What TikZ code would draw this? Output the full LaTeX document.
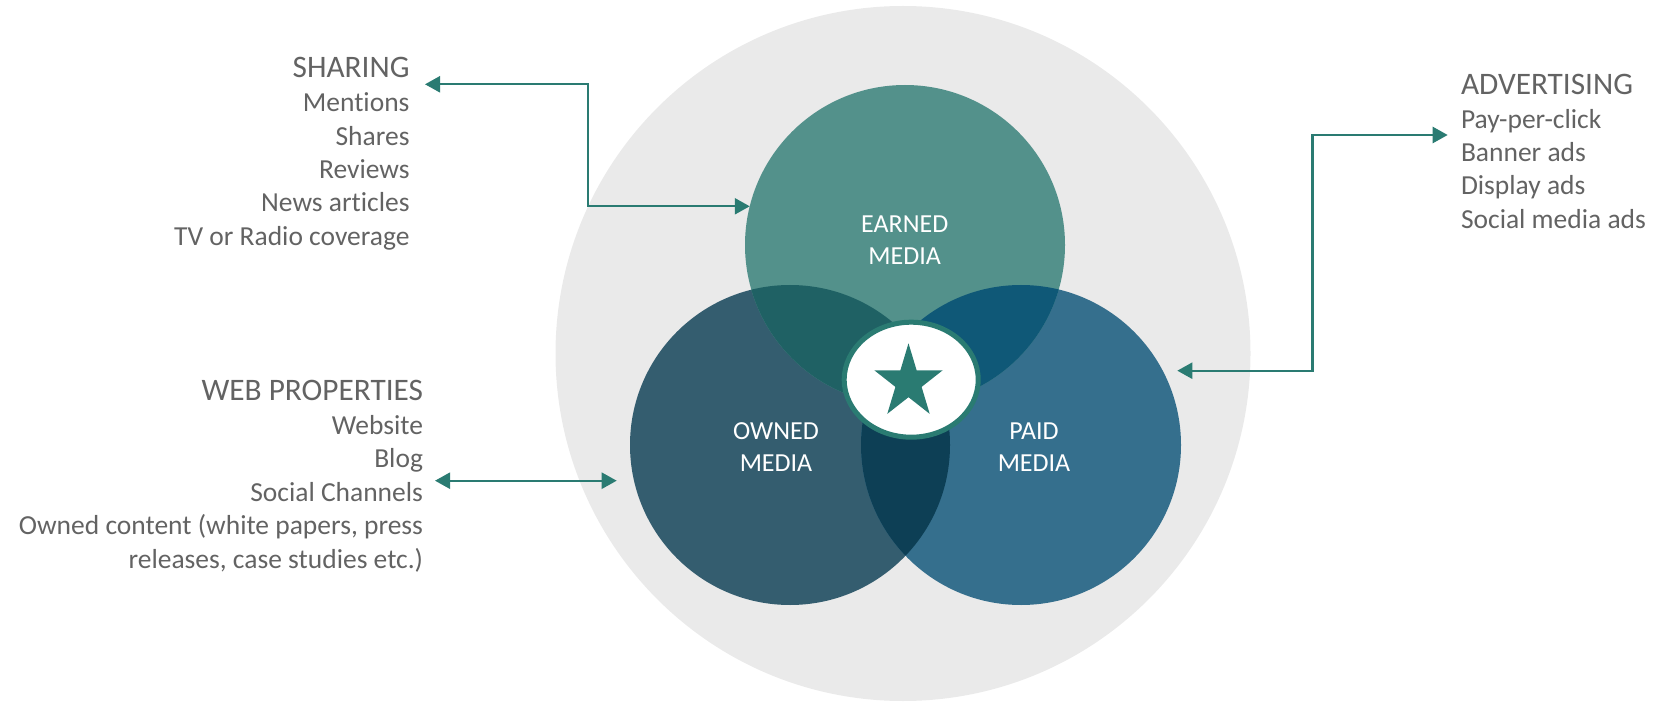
\documentclass[tikz,border=0pt]{standalone}
\usepackage{fontspec}
\setmainfont{Carlito}[Ligatures=NoCommon]
\usetikzlibrary{arrows.meta,shapes.geometric}
\definecolor{greybg}{HTML}{EAEAEA}
\definecolor{earnedc}{HTML}{53918B}
\definecolor{ownedc}{HTML}{345D6F}
\definecolor{paidc}{HTML}{356F8D}
\definecolor{eoc}{HTML}{1F6164}
\definecolor{epc}{HTML}{0F5877}
\definecolor{opc}{HTML}{0D3F55}
\definecolor{allc}{HTML}{0B3A45}
\definecolor{tealc}{HTML}{2A7B72}
\definecolor{txtgrey}{HTML}{636363}
\begin{document}
\begin{tikzpicture}[x=1pt,y=-1pt,
  hdr/.style={font=\fontsize{31.3}{36}\selectfont, text=txtgrey, inner sep=0pt, outer sep=0pt},
  body/.style={font=\fontsize{27.5}{33}\selectfont, text=txtgrey, inner sep=0pt, outer sep=0pt},
  lbl/.style={font=\fontsize{26}{31}\selectfont, text=white, inner sep=0pt, anchor=base},
  disc/.style={circle, inner sep=0pt, outer sep=0pt, minimum size=320pt},
  conn/.style={draw=tealc, line width=2.4pt, {Triangle[length=15pt,width=16pt]}-{Triangle[length=15pt,width=16pt]}}
]
\useasboundingbox (0,0) rectangle (1660,703);

% background disc
\node[circle, fill=greybg, inner sep=0pt, outer sep=0pt, minimum size=695pt] (bg) at (903,353.5) {};

% three media circles
\node[disc, fill=ownedc] (owned) at (790,445) {};
\node[disc, fill=paidc] (paid) at (1021,445) {};
\node[disc, fill=earnedc] (earned) at (905,245) {};

% overlaps
\begin{scope}
  \clip (905,245) circle[radius=160];
  \fill[eoc] (790,445) circle[radius=160];
\end{scope}
\begin{scope}
  \clip (905,245) circle[radius=160];
  \fill[epc] (1021,445) circle[radius=160];
\end{scope}
\begin{scope}
  \clip (790,445) circle[radius=160];
  \fill[opc] (1021,445) circle[radius=160];
\end{scope}
\begin{scope}
  \clip (790,445) circle[radius=160];
  \clip (1021,445) circle[radius=160];
  \fill[allc] (905,245) circle[radius=160];
\end{scope}

% centre ellipse with star
\node[ellipse, draw=tealc, line width=5pt, fill=white, inner sep=0pt, outer sep=0pt,
      minimum width=134pt, minimum height=115pt] (core) at (911.2,379.7) {};
\fill[tealc] (908.5,343.3) -- (900.4,370.25) -- (874.26,370.25) -- (895.4,386.9)
  -- (887.3,413.85) -- (908.5,397.2) -- (929.7,413.85) -- (921.6,386.9)
  -- (942.74,370.25) -- (916.6,370.25) -- cycle;

% circle labels
\node[lbl] (eL1) at (904.7,233) {EARNED};
\node[lbl] (eL2) at (904.7,264.7) {MEDIA};
\node[lbl] (oL1) at (776,439.7) {OWNED};
\node[lbl] (oL2) at (776,471.4) {MEDIA};
\node[lbl] (pL1) at (1034,439.7) {PAID};
\node[lbl] (pL2) at (1034,471.4) {MEDIA};

% SHARING block
\node[hdr, anchor=base east] (sh0) at (409.5,77.3) {SHARING};
\node[body, anchor=base east] (sh1) at (409.5,111.7) {Mentions};
\node[body, anchor=base east] (sh2) at (409.5,145.1) {Shares};
\node[body, anchor=base east] (sh3) at (409.5,178.5) {Reviews};
\node[body, anchor=base east] (sh4) at (409.5,211.9) {News articles};
\node[body, anchor=base east] (sh5) at (409.5,245.3) {TV or Radio coverage};

% WEB PROPERTIES block
\node[hdr, anchor=base east] (wp0) at (423,400.5) {WEB PROPERTIES};
\node[body, anchor=base east] (wp1) at (423,434) {Website};
\node[body, anchor=base east] (wp2) at (423,467.5) {Blog};
\node[body, anchor=base east] (wp3) at (423,501) {Social Channels};
\node[body, anchor=base east] (wp4) at (423,534.5) {Owned content (white papers, press};
\node[body, anchor=base east] (wp5) at (423,568) {releases, case studies etc.)};

% ADVERTISING block
\node[hdr, anchor=base west] (ad0) at (1461,94.3) {ADVERTISING};
\node[body, anchor=base west] (ad1) at (1461,128.7) {Pay-per-click};
\node[body, anchor=base west] (ad2) at (1461,161.9) {Banner ads};
\node[body, anchor=base west] (ad3) at (1461,195) {Display ads};
\node[body, anchor=base west] (ad4) at (1461,228.2) {Social media ads};

% connector ends
\coordinate (shTip) at (425,84.3);
\coordinate (erTip) at (earned.166);
\coordinate (wpTip) at (435,480.7);
\coordinate (owTip) at (616.7,480.7);
\coordinate (paTip) at (1177.3,370.7);
\coordinate (adTip) at (1447.7,135);

% connectors
\draw[conn] (shTip) -- ++(162.7,0) |- (erTip);
\draw[conn] (wpTip) -- (owTip);
\draw[conn] (paTip) -- ++(135,0) |- (adTip);
\end{tikzpicture}
\end{document}
